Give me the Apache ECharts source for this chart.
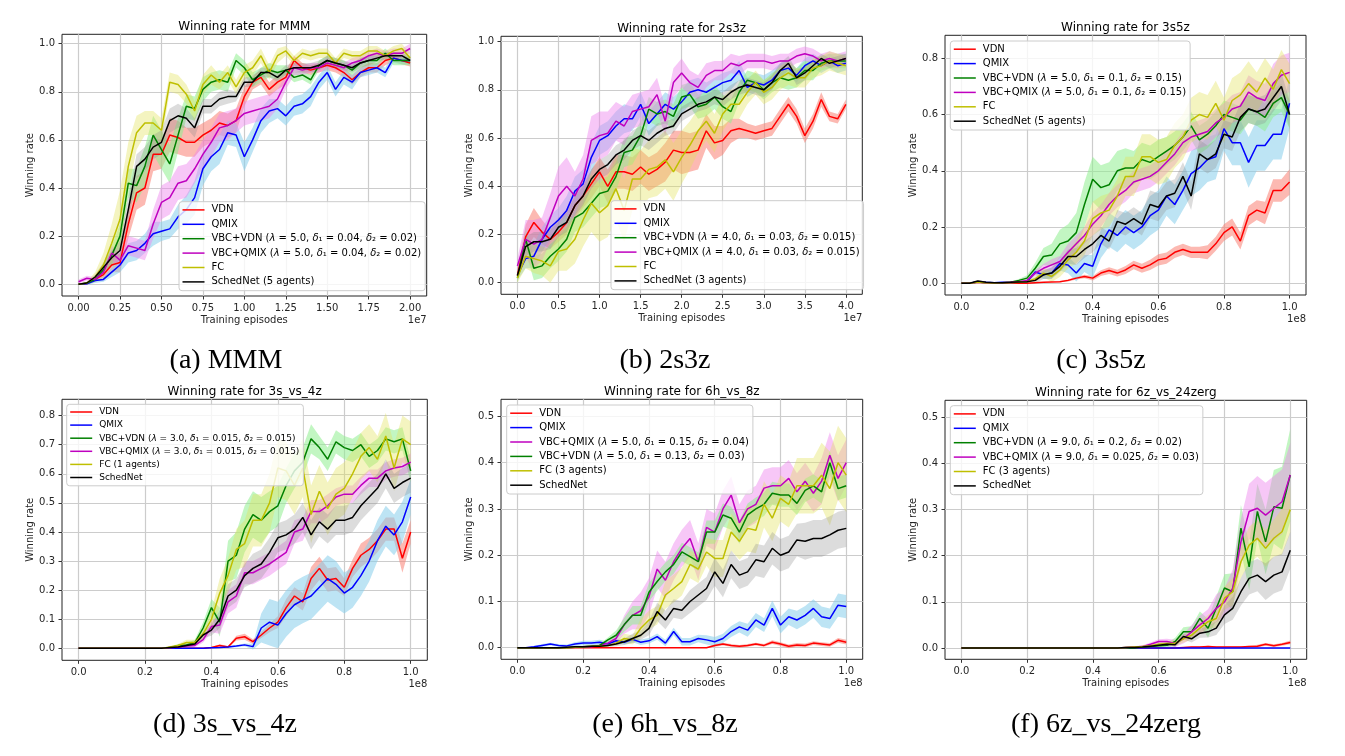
<!DOCTYPE html>
<html><head><meta charset="utf-8">
<script src="https://cdn.jsdelivr.net/npm/echarts/dist/echarts.min.js"></script>
<style>html,body{margin:0;padding:0;background:#fff}#c{width:1345px;height:756px}</style>
</head><body><div id="c"></div>
<script>
// ---------- x positions (training episodes, in units of the axis offset) ----------
const X_MMM = [0,0.05,0.1,0.15,0.2,0.25,0.3,0.35,0.4,0.45,0.5,0.55,0.6,0.65,0.7,0.75,0.8,0.85,0.9,0.95,1,1.05,1.1,1.15,1.2,1.25,1.3,1.35,1.4,1.45,1.5,1.55,1.6,1.65,1.7,1.75,1.8,1.85,1.9,1.95,2];
const X_2S3Z = [0,0.1,0.2,0.3,0.4,0.5,0.6,0.7,0.8,0.9,1,1.1,1.2,1.3,1.4,1.5,1.6,1.7,1.8,1.9,2,2.1,2.2,2.3,2.4,2.5,2.6,2.7,2.8,2.9,3,3.1,3.2,3.3,3.4,3.5,3.6,3.7,3.8,3.9,4];
const X_1E8 = [0,0.025,0.05,0.075,0.1,0.125,0.15,0.175,0.2,0.225,0.25,0.275,0.3,0.325,0.35,0.375,0.4,0.425,0.45,0.475,0.5,0.525,0.55,0.575,0.6,0.625,0.65,0.675,0.7,0.725,0.75,0.775,0.8,0.825,0.85,0.875,0.9,0.925,0.95,0.975,1];

// ---------- tick labels ----------
const XT_MMM = [0,0.25,0.5,0.75,1,1.25,1.5,1.75,2];
const XT_2S3Z = [0,0.5,1,1.5,2,2.5,3,3.5,4];
const XT_1E8 = [0,0.2,0.4,0.6,0.8,1];
const YT_10 = [0,0.2,0.4,0.6,0.8,1];
const YT_08 = [0,0.2,0.4,0.6,0.8];
const YT_08F = [0,0.1,0.2,0.3,0.4,0.5,0.6,0.7,0.8];
const YT_05 = [0,0.1,0.2,0.3,0.4,0.5];

// ---------- (a) MMM ----------
const mmmVDN = [0,0.003,0.02,0.04,0.08,0.09,0.25,0.38,0.40,0.54,0.54,0.62,0.61,0.59,0.59,0.62,0.64,0.67,0.66,0.68,0.78,0.84,0.86,0.81,0.84,0.86,0.93,0.90,0.89,0.90,0.91,0.90,0.88,0.85,0.88,0.90,0.90,0.93,0.94,0.93,0.92];
const mmmQMIX = [0,0.002,0.015,0.02,0.05,0.08,0.13,0.14,0.17,0.21,0.22,0.23,0.28,0.31,0.36,0.48,0.53,0.56,0.63,0.62,0.53,0.60,0.68,0.72,0.73,0.70,0.74,0.75,0.78,0.84,0.88,0.81,0.86,0.84,0.88,0.89,0.90,0.88,0.94,0.93,0.93];
const mmmVBCVDN = [0,0.005,0.02,0.06,0.12,0.20,0.42,0.41,0.49,0.62,0.56,0.50,0.62,0.74,0.73,0.81,0.84,0.85,0.84,0.93,0.90,0.85,0.87,0.89,0.88,0.89,0.86,0.87,0.85,0.91,0.93,0.92,0.91,0.89,0.92,0.93,0.93,0.96,0.93,0.93,0.93];
const mmmVBCQMIX = [0.01,0.025,0.02,0.05,0.13,0.10,0.16,0.15,0.14,0.25,0.34,0.36,0.42,0.43,0.48,0.54,0.59,0.65,0.66,0.68,0.71,0.72,0.73,0.74,0.77,0.84,0.90,0.89,0.90,0.90,0.92,0.91,0.90,0.92,0.93,0.95,0.96,0.95,0.96,0.96,0.98];
const mmmFC = [0,0.005,0.03,0.08,0.17,0.27,0.49,0.63,0.67,0.67,0.64,0.84,0.83,0.79,0.72,0.83,0.87,0.84,0.88,0.82,0.88,0.90,0.95,0.88,0.95,0.97,0.93,0.96,0.95,0.96,0.96,0.92,0.96,0.95,0.95,0.97,0.97,0.95,0.97,0.98,0.94];
const mmmSCHED = [0,0.005,0.03,0.07,0.11,0.14,0.31,0.49,0.52,0.57,0.59,0.68,0.70,0.69,0.65,0.74,0.74,0.77,0.78,0.78,0.84,0.84,0.88,0.88,0.86,0.89,0.90,0.90,0.90,0.91,0.93,0.92,0.91,0.90,0.92,0.93,0.94,0.95,0.95,0.95,0.93];
const mmmVDNsd = [0,0.005,0.01,0.02,0.03,0.04,0.06,0.07,0.07,0.07,0.06,0.07,0.07,0.06,0.06,0.05,0.05,0.05,0.05,0.05,0.04,0.03,0.03,0.03,0.03,0.03,0.02,0.02,0.02,0.02,0.02,0.02,0.02,0.02,0.02,0.02,0.02,0.02,0.015,0.015,0.015];
const mmmQMIXsd = [0,0.005,0.01,0.01,0.02,0.03,0.04,0.04,0.04,0.05,0.04,0.04,0.05,0.06,0.07,0.07,0.06,0.06,0.05,0.05,0.06,0.05,0.05,0.05,0.04,0.04,0.04,0.04,0.04,0.03,0.03,0.03,0.03,0.03,0.02,0.02,0.02,0.02,0.02,0.015,0.015];
const mmmVBCVDNsd = [0,0.005,0.01,0.02,0.04,0.05,0.06,0.07,0.08,0.08,0.08,0.08,0.07,0.05,0.05,0.05,0.04,0.04,0.04,0.03,0.03,0.03,0.03,0.03,0.03,0.02,0.02,0.02,0.02,0.02,0.02,0.02,0.02,0.02,0.02,0.02,0.02,0.02,0.02,0.02,0.02];
const mmmVBCQMIXsd = [0.01,0.01,0.01,0.02,0.03,0.03,0.04,0.04,0.04,0.06,0.07,0.07,0.07,0.07,0.06,0.06,0.06,0.06,0.06,0.05,0.05,0.05,0.05,0.05,0.04,0.03,0.03,0.02,0.02,0.02,0.02,0.02,0.02,0.02,0.02,0.02,0.02,0.02,0.02,0.02,0.02];
const mmmFCsd = [0,0.005,0.02,0.05,0.08,0.12,0.10,0.07,0.05,0.05,0.05,0.04,0.04,0.04,0.04,0.04,0.04,0.03,0.03,0.03,0.03,0.03,0.03,0.03,0.03,0.02,0.02,0.02,0.02,0.02,0.02,0.02,0.02,0.02,0.02,0.02,0.02,0.02,0.02,0.02,0.02];
const mmmSCHEDsd = [0,0.005,0.01,0.02,0.03,0.04,0.05,0.05,0.05,0.05,0.05,0.05,0.05,0.04,0.04,0.03,0.03,0.03,0.03,0.02,0.02,0.02,0.02,0.02,0.02,0.02,0.02,0.02,0.02,0.02,0.02,0.02,0.02,0.02,0.02,0.02,0.015,0.015,0.015,0.015,0.015];

// ---------- (b) 2s3z ----------
const s23VDN = [0.03,0.19,0.25,0.21,0.18,0.21,0.25,0.32,0.36,0.41,0.46,0.40,0.46,0.46,0.45,0.48,0.45,0.47,0.50,0.55,0.54,0.54,0.55,0.63,0.58,0.59,0.63,0.64,0.63,0.62,0.63,0.64,0.69,0.74,0.69,0.61,0.67,0.76,0.69,0.68,0.74];
const s23QMIX = [0.03,0.10,0.11,0.18,0.23,0.26,0.30,0.38,0.41,0.52,0.59,0.61,0.65,0.68,0.68,0.74,0.66,0.70,0.74,0.72,0.75,0.79,0.80,0.79,0.81,0.83,0.84,0.88,0.81,0.83,0.82,0.84,0.88,0.89,0.86,0.90,0.92,0.90,0.92,0.90,0.91];
const s23VBCVDN = [0.02,0.18,0.06,0.07,0.11,0.14,0.18,0.27,0.29,0.33,0.37,0.38,0.44,0.54,0.55,0.61,0.72,0.70,0.71,0.69,0.77,0.78,0.73,0.74,0.77,0.73,0.71,0.79,0.84,0.83,0.80,0.83,0.85,0.84,0.85,0.88,0.88,0.91,0.92,0.92,0.92];
const s23VBCQMIX = [0.07,0.18,0.16,0.18,0.27,0.36,0.40,0.36,0.43,0.59,0.61,0.62,0.67,0.65,0.71,0.72,0.73,0.78,0.67,0.83,0.87,0.83,0.81,0.86,0.88,0.88,0.91,0.90,0.92,0.92,0.92,0.91,0.92,0.92,0.94,0.95,0.94,0.92,0.93,0.92,0.93];
const s23FC = [0.02,0.11,0.10,0.09,0.07,0.13,0.14,0.18,0.26,0.33,0.29,0.32,0.39,0.30,0.43,0.43,0.47,0.48,0.51,0.46,0.52,0.57,0.63,0.67,0.62,0.70,0.74,0.74,0.79,0.83,0.79,0.81,0.85,0.87,0.85,0.85,0.89,0.90,0.92,0.91,0.90];
const s23SCHED = [0.03,0.15,0.17,0.17,0.18,0.23,0.25,0.32,0.36,0.43,0.47,0.49,0.53,0.55,0.59,0.61,0.59,0.62,0.64,0.65,0.70,0.72,0.74,0.75,0.77,0.76,0.79,0.81,0.82,0.81,0.80,0.83,0.88,0.91,0.85,0.87,0.90,0.93,0.91,0.92,0.93];
const s23VDNsd = [0.02,0.05,0.06,0.05,0.04,0.04,0.05,0.05,0.05,0.06,0.06,0.07,0.07,0.07,0.07,0.07,0.07,0.07,0.08,0.08,0.09,0.08,0.08,0.07,0.07,0.06,0.05,0.04,0.03,0.03,0.03,0.03,0.03,0.03,0.03,0.03,0.03,0.03,0.02,0.02,0.02];
const s23QMIXsd = [0.02,0.04,0.05,0.05,0.05,0.05,0.06,0.06,0.06,0.06,0.06,0.06,0.06,0.06,0.05,0.05,0.05,0.05,0.05,0.05,0.05,0.05,0.05,0.04,0.04,0.04,0.04,0.04,0.04,0.04,0.04,0.04,0.03,0.03,0.03,0.03,0.03,0.03,0.03,0.03,0.03];
const s23VBCVDNsd = [0.02,0.05,0.05,0.05,0.05,0.05,0.05,0.06,0.06,0.06,0.06,0.06,0.06,0.06,0.06,0.06,0.05,0.05,0.05,0.05,0.05,0.05,0.05,0.05,0.05,0.05,0.05,0.04,0.04,0.04,0.04,0.04,0.04,0.04,0.04,0.04,0.04,0.03,0.03,0.03,0.03];
const s23VBCQMIXsd = [0.03,0.08,0.10,0.09,0.10,0.12,0.12,0.10,0.10,0.10,0.10,0.09,0.08,0.08,0.07,0.07,0.07,0.07,0.06,0.06,0.06,0.05,0.05,0.05,0.04,0.04,0.04,0.04,0.03,0.03,0.03,0.03,0.03,0.03,0.03,0.03,0.03,0.03,0.03,0.03,0.03];
const s23FCsd = [0.02,0.05,0.06,0.06,0.07,0.08,0.09,0.10,0.11,0.12,0.12,0.13,0.13,0.13,0.13,0.12,0.12,0.12,0.12,0.12,0.11,0.10,0.09,0.08,0.08,0.07,0.06,0.06,0.05,0.05,0.05,0.05,0.05,0.05,0.04,0.04,0.04,0.04,0.04,0.04,0.04];
const s23SCHEDsd = [0.02,0.04,0.04,0.04,0.04,0.04,0.04,0.04,0.04,0.04,0.04,0.04,0.04,0.04,0.04,0.04,0.04,0.04,0.03,0.03,0.03,0.03,0.03,0.03,0.03,0.03,0.03,0.03,0.03,0.03,0.03,0.03,0.03,0.03,0.03,0.03,0.02,0.02,0.02,0.02,0.02];

// ---------- (c) 3s5z ----------
const s35VDN = [0,0,0.003,0.002,0.001,0,0,0,0,0.002,0.003,0.004,0.005,0.01,0.018,0.024,0.018,0.036,0.045,0.036,0.047,0.065,0.053,0.065,0.083,0.089,0.11,0.12,0.11,0.11,0.11,0.14,0.18,0.20,0.15,0.24,0.26,0.25,0.33,0.33,0.36];
const s35QMIX = [0,0,0.005,0.003,0.002,0.003,0.002,0.004,0.005,0.04,0.03,0.036,0.07,0.065,0.036,0.07,0.06,0.14,0.19,0.17,0.20,0.18,0.20,0.24,0.26,0.31,0.28,0.33,0.39,0.41,0.44,0.45,0.55,0.50,0.50,0.43,0.49,0.49,0.53,0.53,0.64];
const s35VBCVDN = [0,0,0.004,0.002,0.001,0.002,0.003,0.01,0.018,0.053,0.095,0.10,0.14,0.15,0.18,0.28,0.37,0.34,0.35,0.40,0.41,0.41,0.44,0.43,0.45,0.47,0.49,0.52,0.56,0.51,0.53,0.56,0.60,0.59,0.58,0.62,0.61,0.59,0.64,0.66,0.60];
const s35VBCQMIX = [0,0,0.004,0.002,0.001,0.002,0.003,0.005,0.01,0.036,0.053,0.065,0.077,0.11,0.14,0.17,0.21,0.24,0.28,0.31,0.33,0.36,0.37,0.38,0.40,0.43,0.46,0.50,0.52,0.53,0.54,0.57,0.59,0.62,0.63,0.68,0.66,0.65,0.71,0.74,0.75];
const s35FC = [0,0,0.004,0.002,0.001,0.002,0.002,0.003,0.005,0.015,0.036,0.024,0.047,0.083,0.11,0.15,0.23,0.25,0.26,0.31,0.38,0.38,0.45,0.45,0.43,0.44,0.49,0.52,0.58,0.60,0.59,0.64,0.58,0.65,0.67,0.71,0.68,0.73,0.69,0.76,0.71];
const s35SCHED = [0,0,0.008,0.003,0.002,0.002,0.003,0.004,0.005,0.01,0.03,0.036,0.06,0.095,0.095,0.12,0.14,0.17,0.15,0.22,0.21,0.23,0.21,0.28,0.27,0.31,0.32,0.38,0.31,0.46,0.44,0.46,0.53,0.52,0.59,0.62,0.61,0.62,0.66,0.70,0.60];
const s35VDNsd = [0,0,0,0,0,0,0,0,0,0,0,0,0.002,0.004,0.005,0.006,0.008,0.01,0.012,0.012,0.014,0.015,0.016,0.018,0.02,0.02,0.02,0.02,0.02,0.02,0.025,0.025,0.03,0.03,0.03,0.035,0.035,0.04,0.04,0.04,0.045];
const s35QMIXsd = [0,0,0.002,0.002,0.002,0.002,0.002,0.003,0.005,0.01,0.015,0.02,0.025,0.03,0.03,0.03,0.04,0.05,0.06,0.06,0.06,0.06,0.06,0.07,0.07,0.07,0.07,0.07,0.08,0.08,0.08,0.08,0.08,0.08,0.08,0.09,0.09,0.09,0.09,0.09,0.09];
const s35VBCVDNsd = [0,0,0.002,0.002,0.002,0.002,0.002,0.005,0.01,0.02,0.03,0.04,0.05,0.06,0.07,0.08,0.08,0.08,0.08,0.07,0.07,0.06,0.06,0.06,0.06,0.05,0.05,0.05,0.05,0.05,0.05,0.05,0.05,0.05,0.05,0.05,0.05,0.05,0.05,0.05,0.05];
const s35VBCQMIXsd = [0,0,0.002,0.002,0.002,0.002,0.002,0.003,0.005,0.01,0.015,0.02,0.02,0.03,0.03,0.03,0.04,0.04,0.04,0.04,0.04,0.04,0.04,0.04,0.04,0.04,0.04,0.04,0.05,0.05,0.05,0.05,0.05,0.05,0.05,0.06,0.06,0.06,0.07,0.07,0.07];
const s35FCsd = [0,0,0.002,0.002,0.002,0.002,0.002,0.003,0.005,0.01,0.015,0.02,0.025,0.03,0.04,0.05,0.06,0.06,0.06,0.06,0.07,0.07,0.08,0.08,0.08,0.08,0.08,0.08,0.08,0.08,0.08,0.08,0.08,0.08,0.08,0.08,0.07,0.07,0.07,0.07,0.07];
const s35SCHEDsd = [0,0,0.003,0.002,0.002,0.002,0.002,0.003,0.005,0.01,0.015,0.02,0.02,0.025,0.03,0.03,0.03,0.03,0.03,0.04,0.04,0.04,0.04,0.05,0.05,0.05,0.05,0.05,0.05,0.05,0.05,0.05,0.05,0.05,0.05,0.05,0.05,0.05,0.05,0.05,0.05];

// ---------- (d) 3s_vs_4z ----------
const s34VDN = [0,0,0,0,0,0,0,0,0,0,0,0,0,0,0,0,0.003,0.01,0.005,0.035,0.04,0.023,0.046,0.07,0.09,0.14,0.18,0.16,0.24,0.275,0.235,0.24,0.21,0.275,0.32,0.34,0.37,0.41,0.41,0.31,0.40];
const s34QMIX = [0,0,0,0,0,0,0,0,0,0,0,0,0,0,0,0,0.002,0.003,0.005,0.008,0.012,0.006,0.07,0.09,0.08,0.12,0.15,0.166,0.18,0.21,0.24,0.22,0.19,0.21,0.25,0.30,0.37,0.42,0.39,0.435,0.52];
const s34VBCVDN = [0,0,0,0,0,0,0,0,0,0,0,0.002,0.01,0.012,0.02,0.07,0.14,0.09,0.30,0.32,0.41,0.46,0.44,0.47,0.49,0.56,0.61,0.64,0.72,0.69,0.65,0.71,0.69,0.68,0.70,0.66,0.68,0.72,0.71,0.72,0.61];
const s34VBCQMIX = [0,0,0,0,0,0,0,0,0,0,0,0.002,0.005,0.008,0.01,0.03,0.075,0.08,0.16,0.18,0.26,0.26,0.275,0.29,0.31,0.33,0.40,0.41,0.47,0.47,0.49,0.52,0.53,0.53,0.56,0.585,0.585,0.61,0.62,0.625,0.64];
const s34FC = [0,0,0,0,0,0,0,0,0,0,0,0.005,0.01,0.02,0.02,0.05,0.10,0.19,0.25,0.34,0.36,0.44,0.44,0.50,0.62,0.61,0.56,0.62,0.46,0.54,0.48,0.53,0.55,0.60,0.66,0.69,0.65,0.73,0.62,0.72,0.70];
const s34SCHED = [0,0,0,0,0,0,0,0,0,0,0,0.003,0.005,0.01,0.015,0.046,0.063,0.10,0.18,0.20,0.25,0.275,0.29,0.33,0.38,0.39,0.41,0.45,0.39,0.435,0.41,0.44,0.44,0.45,0.49,0.52,0.55,0.60,0.55,0.57,0.585];
const s34VDNsd = [0,0,0,0,0,0,0,0,0,0,0,0,0,0,0,0,0.002,0.004,0.003,0.008,0.01,0.008,0.01,0.015,0.02,0.03,0.03,0.03,0.04,0.04,0.04,0.04,0.03,0.03,0.04,0.04,0.04,0.04,0.04,0.05,0.04];
const s34QMIXsd = [0,0,0,0,0,0,0,0,0,0,0,0,0,0,0,0,0.002,0.002,0.003,0.004,0.005,0.01,0.05,0.08,0.08,0.08,0.08,0.08,0.08,0.08,0.08,0.08,0.07,0.07,0.07,0.07,0.07,0.07,0.07,0.07,0.06];
const s34VBCVDNsd = [0,0,0,0,0,0,0,0,0,0,0,0.002,0.005,0.007,0.01,0.02,0.03,0.05,0.07,0.08,0.08,0.08,0.08,0.07,0.07,0.06,0.06,0.05,0.05,0.04,0.04,0.04,0.04,0.04,0.04,0.04,0.04,0.04,0.04,0.04,0.04];
const s34VBCQMIXsd = [0,0,0,0,0,0,0,0,0,0,0,0.002,0.003,0.005,0.007,0.01,0.02,0.03,0.04,0.04,0.04,0.04,0.04,0.04,0.04,0.04,0.04,0.04,0.04,0.04,0.04,0.03,0.03,0.03,0.03,0.03,0.03,0.03,0.03,0.03,0.03];
const s34FCsd = [0,0,0,0,0,0,0,0,0,0,0,0.003,0.005,0.01,0.01,0.02,0.03,0.05,0.06,0.07,0.08,0.09,0.09,0.10,0.10,0.10,0.10,0.10,0.10,0.09,0.09,0.09,0.09,0.08,0.08,0.08,0.08,0.08,0.08,0.08,0.08];
const s34SCHEDsd = [0,0,0,0,0,0,0,0,0,0,0,0.002,0.003,0.005,0.007,0.01,0.02,0.03,0.04,0.04,0.04,0.05,0.05,0.05,0.05,0.05,0.05,0.05,0.05,0.05,0.05,0.05,0.05,0.05,0.05,0.05,0.05,0.05,0.05,0.05,0.05];

// ---------- (e) 6h_vs_8z ----------
const s68VDN = [0,0,0,0,0,0,0,0,0,0,0,0,0,0,0,0,0,0,0,0,0,0,0,0,0.005,0.008,0.005,0.003,0.005,0.008,0.005,0.012,0.008,0.003,0.006,0.005,0.01,0.008,0.006,0.016,0.012];
const s68QMIX = [0,0,0.002,0.005,0.008,0.005,0.004,0.008,0.01,0.01,0.012,0.008,0.015,0.012,0.018,0.012,0.015,0.024,0.01,0.035,0.013,0.013,0.02,0.017,0.013,0.02,0.035,0.045,0.038,0.06,0.049,0.085,0.049,0.067,0.06,0.07,0.085,0.067,0.063,0.092,0.089];
const s68VBCQMIX = [0,0,0,0,0,0,0,0.001,0.001,0.002,0.005,0.01,0.02,0.05,0.07,0.08,0.11,0.17,0.146,0.186,0.215,0.236,0.186,0.26,0.25,0.30,0.33,0.27,0.30,0.31,0.345,0.35,0.35,0.366,0.337,0.36,0.334,0.36,0.416,0.366,0.40];
const s68VBCVDN = [0,0,0,0,0,0,0,0.001,0.002,0.003,0.005,0.017,0.027,0.05,0.07,0.07,0.12,0.143,0.164,0.18,0.207,0.197,0.186,0.25,0.25,0.287,0.28,0.25,0.287,0.30,0.31,0.334,0.33,0.33,0.312,0.34,0.35,0.337,0.40,0.344,0.35];
const s68FC = [0,0,0,0,0,0,0,0.001,0.002,0.003,0.004,0.005,0.01,0.02,0.017,0.042,0.06,0.07,0.114,0.128,0.143,0.18,0.17,0.207,0.193,0.193,0.25,0.23,0.258,0.254,0.31,0.28,0.323,0.31,0.35,0.35,0.35,0.373,0.344,0.40,0.373];
const s68SCHED = [0,0,0,0,0,0,0.001,0.002,0.002,0.003,0.003,0.005,0.008,0.013,0.02,0.027,0.042,0.078,0.06,0.085,0.081,0.10,0.114,0.128,0.164,0.139,0.18,0.157,0.164,0.19,0.186,0.215,0.20,0.207,0.233,0.23,0.236,0.236,0.244,0.254,0.258];
const s68VDNsd = [0,0,0,0,0,0,0,0,0,0,0,0,0,0,0,0,0,0,0,0,0,0,0,0,0.003,0.003,0.003,0.003,0.003,0.003,0.003,0.004,0.004,0.004,0.004,0.004,0.004,0.004,0.004,0.005,0.005];
const s68QMIXsd = [0,0,0.002,0.003,0.003,0.003,0.003,0.004,0.005,0.005,0.005,0.005,0.005,0.005,0.006,0.006,0.006,0.007,0.007,0.008,0.008,0.008,0.008,0.01,0.01,0.01,0.012,0.012,0.014,0.015,0.015,0.017,0.018,0.018,0.02,0.02,0.02,0.022,0.022,0.025,0.025];
const s68VBCQMIXsd = [0,0,0,0,0,0,0,0,0,0,0.003,0.005,0.01,0.02,0.03,0.04,0.04,0.04,0.04,0.04,0.04,0.04,0.04,0.04,0.04,0.04,0.04,0.04,0.04,0.04,0.04,0.04,0.04,0.04,0.04,0.04,0.04,0.05,0.05,0.05,0.05];
const s68VBCVDNsd = [0,0,0,0,0,0,0,0,0,0,0.003,0.005,0.01,0.015,0.02,0.02,0.02,0.02,0.02,0.02,0.02,0.02,0.02,0.025,0.025,0.025,0.025,0.025,0.025,0.025,0.025,0.025,0.025,0.025,0.025,0.025,0.025,0.025,0.025,0.025,0.025];
const s68FCsd = [0,0,0,0,0,0,0,0,0,0,0.002,0.003,0.005,0.01,0.01,0.02,0.02,0.02,0.03,0.03,0.03,0.03,0.03,0.03,0.04,0.04,0.04,0.04,0.05,0.05,0.05,0.05,0.05,0.05,0.06,0.06,0.06,0.07,0.08,0.08,0.08];
const s68SCHEDsd = [0,0,0,0,0,0,0,0,0,0,0.002,0.003,0.005,0.007,0.01,0.01,0.015,0.02,0.02,0.02,0.02,0.025,0.025,0.025,0.03,0.03,0.03,0.03,0.03,0.035,0.035,0.035,0.035,0.035,0.035,0.04,0.04,0.04,0.04,0.04,0.04];

// ---------- (f) 6z_vs_24zerg ----------
const s624VDN = [0,0,0,0,0,0,0,0,0,0,0,0,0,0,0,0,0,0,0,0,0,0,0,0,0,0,0,0.001,0.002,0.002,0.003,0.002,0.002,0.002,0.002,0.003,0.004,0.008,0.005,0.008,0.012];
const s624QMIX = [0,0,0,0,0,0,0,0,0,0,0,0,0,0,0,0,0,0,0,0,0,0,0,0,0,0,0,0,0,0,0,0,0,0,0,0,0,0,0,0,0];
const s624VBCVDN = [0,0,0,0,0,0,0,0,0,0,0,0,0,0,0,0,0,0,0,0,0,0,0.002,0.003,0.005,0.006,0.014,0.035,0.035,0.064,0.043,0.086,0.13,0.122,0.26,0.176,0.296,0.23,0.306,0.303,0.375];
const s624VBCQMIX = [0,0,0,0,0,0,0,0,0,0,0,0,0,0,0,0,0,0,0,0,0.001,0.002,0.003,0.008,0.014,0.014,0.01,0.02,0.035,0.05,0.064,0.086,0.10,0.13,0.23,0.296,0.303,0.288,0.303,0.317,0.375];
const s624FC = [0,0,0,0,0,0,0,0,0,0,0,0,0,0,0,0,0,0,0,0,0.001,0.002,0.003,0.005,0.008,0.01,0.01,0.02,0.028,0.043,0.057,0.064,0.108,0.122,0.187,0.223,0.238,0.216,0.238,0.252,0.30];
const s624SCHED = [0,0,0,0,0,0,0,0,0,0,0,0,0,0,0,0,0,0,0,0,0.001,0.001,0.002,0.004,0.006,0.008,0.007,0.025,0.02,0.032,0.035,0.043,0.072,0.086,0.122,0.151,0.158,0.144,0.158,0.165,0.212];
const s624VDNsd = [0,0,0,0,0,0,0,0,0,0,0,0,0,0,0,0,0,0,0,0,0,0,0,0,0,0,0,0.001,0.001,0.001,0.002,0.002,0.002,0.002,0.002,0.002,0.003,0.003,0.003,0.003,0.004];
const s624QMIXsd = [0,0,0,0,0,0,0,0,0,0,0,0,0,0,0,0,0,0,0,0,0,0,0,0,0,0,0,0,0,0,0,0,0,0,0,0,0,0,0,0,0];
const s624VBCVDNsd = [0,0,0,0,0,0,0,0,0,0,0,0,0,0,0,0,0,0,0,0,0,0,0.002,0.003,0.004,0.005,0.008,0.01,0.012,0.015,0.02,0.025,0.03,0.04,0.05,0.05,0.06,0.07,0.08,0.09,0.1];
const s624VBCQMIXsd = [0,0,0,0,0,0,0,0,0,0,0,0,0,0,0,0,0,0,0,0,0.001,0.002,0.003,0.004,0.005,0.006,0.008,0.01,0.015,0.02,0.02,0.03,0.03,0.04,0.05,0.06,0.07,0.07,0.07,0.07,0.07];
const s624FCsd = [0,0,0,0,0,0,0,0,0,0,0,0,0,0,0,0,0,0,0,0,0.001,0.002,0.002,0.003,0.004,0.005,0.006,0.008,0.01,0.012,0.015,0.02,0.025,0.03,0.035,0.04,0.04,0.04,0.04,0.05,0.05];
const s624SCHEDsd = [0,0,0,0,0,0,0,0,0,0,0,0,0,0,0,0,0,0,0,0,0.001,0.001,0.002,0.002,0.003,0.004,0.005,0.006,0.008,0.01,0.012,0.015,0.02,0.025,0.03,0.035,0.035,0.04,0.04,0.04,0.04];

// ---------- chart text ----------
const TITLES = ['Winning rate for MMM','Winning rate for 2s3z','Winning rate for 3s5z','Winning rate for 3s_vs_4z','Winning rate for 6h_vs_8z','Winning rate for 6z_vs_24zerg'];
const CAPTIONS = ['(a) MMM','(b) 2s3z','(c) 3s5z','(d) 3s_vs_4z','(e) 6h_vs_8z','(f) 6z_vs_24zerg'];
const EXPONENTS = ['1e7','1e7','1e8','1e8','1e8','1e8'];

// series per plot: [legend name, colour key, mean, spread]
const PLOT_SERIES = [
  [['VDN','VDN',mmmVDN,mmmVDNsd],['QMIX','QMIX',mmmQMIX,mmmQMIXsd],['VBC+VDN (λ = 5.0, δ₁ = 0.04, δ₂ = 0.02)','VBCVDN',mmmVBCVDN,mmmVBCVDNsd],['VBC+QMIX (λ = 5.0, δ₁ = 0.04, δ₂ = 0.02)','VBCQMIX',mmmVBCQMIX,mmmVBCQMIXsd],['FC','FC',mmmFC,mmmFCsd],['SchedNet (5 agents)','SCHED',mmmSCHED,mmmSCHEDsd]],
  [['VDN','VDN',s23VDN,s23VDNsd],['QMIX','QMIX',s23QMIX,s23QMIXsd],['VBC+VDN (λ = 4.0, δ₁ = 0.03, δ₂ = 0.015)','VBCVDN',s23VBCVDN,s23VBCVDNsd],['VBC+QMIX (λ = 4.0, δ₁ = 0.03, δ₂ = 0.015)','VBCQMIX',s23VBCQMIX,s23VBCQMIXsd],['FC','FC',s23FC,s23FCsd],['SchedNet (3 agents)','SCHED',s23SCHED,s23SCHEDsd]],
  [['VDN','VDN',s35VDN,s35VDNsd],['QMIX','QMIX',s35QMIX,s35QMIXsd],['VBC+VDN (λ = 5.0, δ₁ = 0.1, δ₂ = 0.15)','VBCVDN',s35VBCVDN,s35VBCVDNsd],['VBC+QMIX (λ = 5.0, δ₁ = 0.1, δ₂ = 0.15)','VBCQMIX',s35VBCQMIX,s35VBCQMIXsd],['FC','FC',s35FC,s35FCsd],['SchedNet (5 agents)','SCHED',s35SCHED,s35SCHEDsd]],
  [['VDN','VDN',s34VDN,s34VDNsd],['QMIX','QMIX',s34QMIX,s34QMIXsd],['VBC+VDN (λ = 3.0, δ₁ = 0.015, δ₂ = 0.015)','VBCVDN',s34VBCVDN,s34VBCVDNsd],['VBC+QMIX (λ = 3.0, δ₁ = 0.015, δ₂ = 0.015)','VBCQMIX',s34VBCQMIX,s34VBCQMIXsd],['FC (1 agents)','FC',s34FC,s34FCsd],['SchedNet','SCHED',s34SCHED,s34SCHEDsd]],
  [['VDN','VDN',s68VDN,s68VDNsd],['QMIX','QMIX',s68QMIX,s68QMIXsd],['VBC+QMIX (λ = 5.0, δ₁ = 0.15, δ₂ = 0.04)','VBCQMIX',s68VBCQMIX,s68VBCQMIXsd],['VBC+VDN (λ = 5.0, δ₁ = 0.13, δ₂ = 0.03)','VBCVDN',s68VBCVDN,s68VBCVDNsd],['FC (3 agents)','FC',s68FC,s68FCsd],['SchedNet','SCHED',s68SCHED,s68SCHEDsd]],
  [['VDN','VDN',s624VDN,s624VDNsd],['QMIX','QMIX',s624QMIX,s624QMIXsd],['VBC+VDN (λ = 9.0, δ₁ = 0.2, δ₂ = 0.02)','VBCVDN',s624VBCVDN,s624VBCVDNsd],['VBC+QMIX (λ = 9.0, δ₁ = 0.025, δ₂ = 0.03)','VBCQMIX',s624VBCQMIX,s624VBCQMIXsd],['FC (3 agents)','FC',s624FC,s624FCsd],['SchedNet','SCHED',s624SCHED,s624SCHEDsd]]
];
const PLOT_X = [X_MMM, X_2S3Z, X_1E8, X_1E8, X_1E8, X_1E8];
const PLOT_XT = [XT_MMM, XT_2S3Z, XT_1E8, XT_1E8, XT_1E8, XT_1E8];
const PLOT_YT = [YT_10, YT_10, YT_08, YT_08F, YT_05, YT_05];

// ---------- layout / style (not data) ----------
const LAYOUT = [
  {g:[62,34.3,364.7,261.7], xr:[-0.1,2.1], yr:[-0.049,1.039], xd:2, lg:[179,201.7], lf:10, cap:[226,347]},
  {g:[501,36.3,361.3,258], xr:[-0.2,4.2], yr:[-0.048,1.022], xd:1, lg:[611,200.7], lf:10, cap:[665,347]},
  {g:[945,35.3,361,259.7], xr:[-0.05,1.05], yr:[-0.042,0.882], xd:1, lg:[950.3,41], lf:10, cap:[1101,347]},
  {g:[62,399.3,365.3,261], xr:[-0.05,1.05], yr:[-0.041,0.856], xd:1, lg:[66.7,404.3], lf:9, cap:[225,711]},
  {g:[501,399.3,361.7,260], xr:[-0.05,1.05], yr:[-0.025,0.537], xd:1, lg:[506.7,405], lf:10, cap:[665,711]},
  {g:[945,400.3,361.7,259], xr:[-0.05,1.05], yr:[-0.0245,0.537], xd:1, lg:[950.3,405.7], lf:10, cap:[1106,711]}
];
const COLORS = {VDN:'#ff0000', QMIX:'#0000ff', VBCVDN:'#008000', VBCQMIX:'#bf00bf', FC:'#bfbf00', SCHED:'#000000'};
const BANDS = {VDN:'rgba(250,128,114,0.55)', QMIX:'rgba(135,206,235,0.55)', VBCVDN:'rgba(144,238,144,0.55)', VBCQMIX:'rgba(238,130,238,0.45)', FC:'rgba(225,225,90,0.38)', SCHED:'rgba(140,140,140,0.3)'};
const FONT = 'DejaVu Sans';
const TXT = '#262626';

const grids = [], xAxes = [], yAxes = [], series = [], legends = [], titles = [];

LAYOUT.forEach((L, gi) => {
  const [gl, gt, gw, gh] = L.g;
  grids.push({left: gl, top: gt, width: gw, height: gh, show: true, borderColor: '#222', borderWidth: 1, backgroundColor: 'transparent', containLabel: false, outerBoundsMode: 'none'});
  xAxes.push({
    gridIndex: gi, type: 'value', min: L.xr[0], max: L.xr[1],
    axisLine: {show: false, onZero: false},
    axisTick: {show: true, customValues: PLOT_XT[gi], length: 3.5, lineStyle: {color: '#333', width: 1}},
    axisLabel: {customValues: PLOT_XT[gi], formatter: v => v.toFixed(L.xd), fontSize: 10, fontFamily: FONT, color: TXT, margin: 7},
    splitLine: {show: true, lineStyle: {color: '#cccccc', width: 1.2}},
    name: 'Training episodes', nameLocation: 'middle', nameGap: 19,
    nameTextStyle: {fontSize: 10, fontFamily: FONT, color: TXT}
  });
  yAxes.push({
    gridIndex: gi, type: 'value', min: L.yr[0], max: L.yr[1],
    axisLine: {show: false, onZero: false},
    axisTick: {show: true, customValues: PLOT_YT[gi], length: 3.5, lineStyle: {color: '#333', width: 1}},
    axisLabel: {customValues: PLOT_YT[gi], formatter: v => v.toFixed(1), fontSize: 10, fontFamily: FONT, color: TXT, margin: 7},
    splitLine: {show: true, lineStyle: {color: '#cccccc', width: 1.2}},
    name: 'Winning rate', nameLocation: 'middle', nameGap: 26,
    nameTextStyle: {fontSize: 10, fontFamily: FONT, color: TXT}
  });

  const xs = PLOT_X[gi];
  const names = [];
  PLOT_SERIES[gi].forEach(([name, key, mean, sd]) => {
    const lo = mean.map((v, i) => v - sd[i]);
    const hi = mean.map((v, i) => v + sd[i]);
    const fill = BANDS[key];
    series.push({
      type: 'custom', name: '_band_' + gi + '_' + key, xAxisIndex: gi, yAxisIndex: gi,
      silent: true, z: 1, clip: true, animation: false,
      data: xs.map((x, i) => [x, lo[i], hi[i]]), encode: {x: 0, y: [1, 2]},
      renderItem: function (params, api) {
        if (params.dataIndex !== 0) return null;
        const pts = [];
        for (let i = 0; i < xs.length; i++) pts.push(api.coord([xs[i], hi[i]]));
        for (let i = xs.length - 1; i >= 0; i--) pts.push(api.coord([xs[i], lo[i]]));
        return {type: 'polygon', shape: {points: pts}, style: {fill: fill, stroke: null}, silent: true};
      }
    });
  });
  PLOT_SERIES[gi].forEach(([name, key, mean]) => {
    names.push(name);
    series.push({
      type: 'line', name: name, xAxisIndex: gi, yAxisIndex: gi,
      data: xs.map((x, i) => [x, mean[i]]),
      showSymbol: false, symbol: 'none', z: 3, animation: false,
      lineStyle: {width: 1.5, color: COLORS[key]}, itemStyle: {color: COLORS[key]}
    });
  });

  const lf = L.lf, lh = lf === 10 ? 12 : 11;
  legends.push({
    orient: 'vertical', left: L.lg[0], top: L.lg[1], data: names, selectedMode: false,
    icon: 'rect', itemWidth: 22, itemHeight: 1.5, itemGap: lf === 10 ? 2.4 : 2.1,
    padding: [2.2, 4, 2.8, 3.5],
    backgroundColor: 'rgba(255,255,255,0.8)', borderColor: '#cccccc', borderWidth: 1, borderRadius: 3,
    formatter: n => n.replace(/([λδ])/g, '{i|$1}'),
    textStyle: {fontSize: lf, fontFamily: FONT, color: '#000', lineHeight: lh, padding: [0, 0, 0, 2],
      rich: {i: {fontStyle: 'italic', fontSize: lf, fontFamily: FONT, color: '#000', lineHeight: lh}}},
    z: 10
  });

  titles.push({text: TITLES[gi], left: gl + gw / 2, top: gt - 13.5, textAlign: 'center', padding: 0,
    textStyle: {fontSize: 12, fontFamily: FONT, fontWeight: 'normal', color: '#000'}});
  titles.push({text: CAPTIONS[gi], left: L.cap[0], top: L.cap[1], textAlign: 'center', padding: 0,
    textStyle: {fontSize: 28, fontFamily: 'Liberation Serif', fontWeight: 'normal', color: '#000'}});
  titles.push({text: EXPONENTS[gi], left: gl + gw, top: gt + gh + 19, textAlign: 'right', padding: 0,
    textStyle: {fontSize: 10, fontFamily: FONT, fontWeight: 'normal', color: TXT}});
});

const chart = echarts.init(document.getElementById('c'), null, {renderer: 'canvas'});
chart.setOption({
  animation: false, backgroundColor: '#ffffff',
  grid: grids, xAxis: xAxes, yAxis: yAxes, series: series, legend: legends, title: titles
});
</script></body></html>
